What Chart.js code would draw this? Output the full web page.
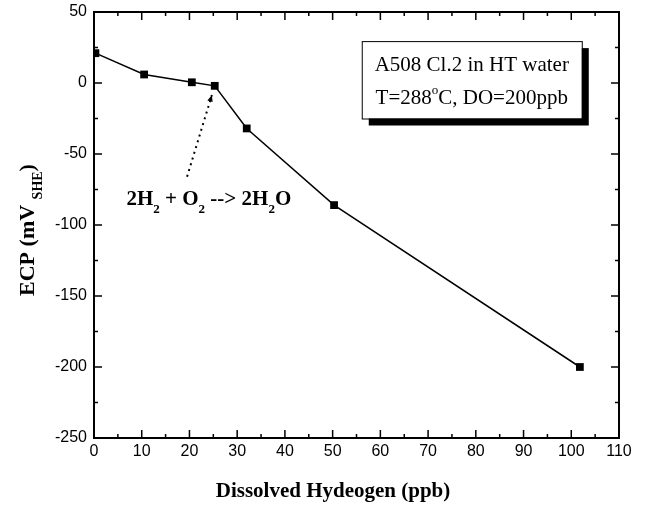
<!DOCTYPE html>
<html>
<head>
<meta charset="utf-8">
<script src="https://cdn.jsdelivr.net/npm/chart.js@4.4.1/dist/chart.umd.min.js"></script>
<style>
  html, body { margin: 0; padding: 0; background: #fff; }
  #wrap { width: 645px; height: 506px; position: relative; }
</style>
</head>
<body>
<div id="wrap"><canvas id="ecpChart"></canvas></div>
<script>
// data
const hydrogenPpb = [0.3, 10.5, 20.5, 25.3, 32, 50.3, 101.8];
const ecpMv = [21, 6, 0.5, -2, -32, -86, -200];
const xTicks = [0, 10, 20, 30, 40, 50, 60, 70, 80, 90, 100, 110];
const yTicks = [50, 0, -50, -100, -150, -200, -250];

const SERIF = "'Liberation Serif', 'Times New Roman', serif";
const SANS = "'Liberation Sans', Arial, sans-serif";

// text drawn as pieces: [text, 'n' normal | 'sub' | 'sup']
function drawPieces(ctx, pieces, x, y, size, bold, align) {
    const w = (p) => {
        ctx.font = (bold ? 'bold ' : '') + (p[1] === 'n' ? size : Math.round(size * 0.62)) + 'px ' + SERIF;
        return ctx.measureText(p[0]).width;
    };
    let total = 0;
    pieces.forEach(p => total += w(p));
    let cx = align === 'center' ? x - total / 2 : x;
    pieces.forEach(p => {
        const pw = w(p);
        let dy = 0;
        if (p[1] === 'sub') dy = size * 0.38;
        if (p[1] === 'sup') dy = -size * 0.5;
        ctx.fillText(p[0], cx, y + dy);
        cx += pw;
    });
}

const framePlugin = {
    id: 'frame',
    afterDraw(chart) {
        const ctx = chart.ctx;
        const a = chart.chartArea;
        const xs = chart.scales.x, ys = chart.scales.y;
        ctx.save();
        ctx.strokeStyle = '#000';
        ctx.fillStyle = '#000';

        // box round the plot
        ctx.lineWidth = 2;
        ctx.strokeRect(a.left, a.top, a.right - a.left, a.bottom - a.top);

        // inward ticks on all four sides
        ctx.lineWidth = 1.5;
        ctx.beginPath();
        for (let v = 0; v <= 110; v += 5) {
            const px = xs.getPixelForValue(v);
            const len = v % 10 === 0 ? 8 : 4;
            ctx.moveTo(px, a.bottom); ctx.lineTo(px, a.bottom - len);
            ctx.moveTo(px, a.top); ctx.lineTo(px, a.top + len);
        }
        for (let v = -250; v <= 50; v += 25) {
            const py = ys.getPixelForValue(v);
            const len = v % 50 === 0 ? 8 : 4;
            ctx.moveTo(a.left, py); ctx.lineTo(a.left + len, py);
            ctx.moveTo(a.right, py); ctx.lineTo(a.right - len, py);
        }
        ctx.stroke();

        // dotted arrow to the recombination point
        const x0 = xs.getPixelForValue(19.5), y0 = ys.getPixelForValue(-66);
        const x1 = xs.getPixelForValue(24.7), y1 = ys.getPixelForValue(-8.5);
        ctx.lineWidth = 2;
        ctx.setLineDash([2, 4]);
        ctx.beginPath();
        ctx.moveTo(x0, y0); ctx.lineTo(x1, y1);
        ctx.stroke();
        ctx.setLineDash([]);
        const ang = Math.atan2(y1 - y0, x1 - x0);
        ctx.beginPath();
        ctx.moveTo(x1, y1);
        ctx.lineTo(x1 - 7 * Math.cos(ang - 0.4), y1 - 7 * Math.sin(ang - 0.4));
        ctx.lineTo(x1 - 7 * Math.cos(ang + 0.4), y1 - 7 * Math.sin(ang + 0.4));
        ctx.closePath();
        ctx.fill();

        ctx.textBaseline = 'alphabetic';
        ctx.textAlign = 'left';
        drawPieces(ctx, [['2H', 'n'], ['2', 'sub'], [' + O', 'n'], ['2', 'sub'], [' --> 2H', 'n'], ['2', 'sub'], ['O', 'n']],
            xs.getPixelForValue(6.8), ys.getPixelForValue(-86), 21, true, 'left');

        // note box with shadow
        const bl = xs.getPixelForValue(56.1), br = xs.getPixelForValue(102.2);
        const bt = ys.getPixelForValue(29.5), bb = ys.getPixelForValue(-25);
        ctx.fillRect(bl + 7, bt + 7, br - bl, bb - bt);
        ctx.fillStyle = '#fff';
        ctx.fillRect(bl, bt, br - bl, bb - bt);
        ctx.lineWidth = 1;
        ctx.strokeRect(bl + 0.5, bt + 0.5, br - bl, bb - bt);
        ctx.fillStyle = '#000';
        const bc = (bl + br) / 2;
        drawPieces(ctx, [['A508 Cl.2 in HT water', 'n']], bc, bt + 30, 21, false, 'center');
        drawPieces(ctx, [['T=288', 'n'], ['o', 'sup'], ['C, DO=200ppb', 'n']], bc, bt + 63, 21, false, 'center');

        // axis titles
        drawPieces(ctx, [['Dissolved Hydeogen (ppb)', 'n']], 333, 497, 21, true, 'center');
        ctx.translate(34, 230);
        ctx.rotate(-Math.PI / 2);
        drawPieces(ctx, [['ECP (mV ', 'n'], ['SHE', 'sub'], [')', 'n']], 0, 0, 22, true, 'center');
        ctx.restore();
    }
};

new Chart(document.getElementById('ecpChart'), {
    type: 'scatter',
    data: {
        datasets: [{
            data: hydrogenPpb.map((x, i) => ({ x: x, y: ecpMv[i] })),
            showLine: true,
            borderColor: '#000',
            borderWidth: 1.5,
            pointStyle: 'rect',
            pointRadius: 5.5,
            pointBackgroundColor: '#000',
            pointBorderColor: '#000',
            pointBorderWidth: 0
        }]
    },
    options: {
        responsive: true,
        maintainAspectRatio: false,
        animation: false,
        layout: { padding: { left: 0, right: 26, top: 12, bottom: 0 } },
        plugins: { legend: { display: false }, tooltip: { enabled: false } },
        scales: {
            x: {
                type: 'linear',
                min: 0, max: 110,
                afterFit: (s) => { s.height = 68; s.paddingLeft = 0; s.paddingRight = 0; },
                afterBuildTicks: (s) => { s.ticks = xTicks.map(v => ({ value: v })); },
                grid: { display: false, drawTicks: false },
                border: { display: false },
                ticks: { color: '#000', padding: 4, font: { family: SANS, size: 16 } }
            },
            y: {
                type: 'linear',
                min: -250, max: 50,
                afterFit: (s) => { s.width = 94; s.paddingTop = 0; s.paddingBottom = 0; },
                afterBuildTicks: (s) => { s.ticks = yTicks.map(v => ({ value: v })); },
                grid: { display: false, drawTicks: false },
                border: { display: false },
                ticks: { color: '#000', padding: 7, font: { family: SANS, size: 16 } }
            }
        }
    },
    plugins: [framePlugin]
});
</script>
</body>
</html>
